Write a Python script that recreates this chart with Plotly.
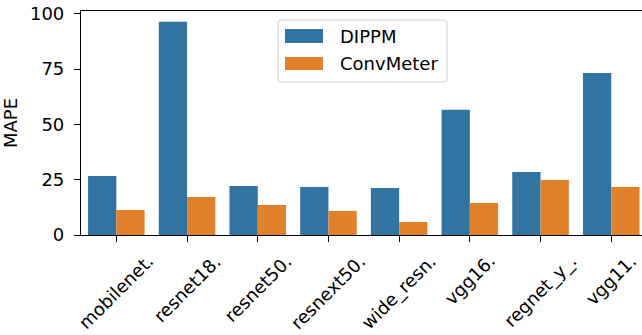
import plotly.graph_objects as go

# Mean absolute percentage error per model, for the two predictors
models = ["mobilenet.", "resnet18.", "resnet50.", "resnext50.",
          "wide_resn.", "vgg16.", "regnet_y_.", "vgg11."]
dippm = [26.7, 96.4, 22.2, 21.7, 21.3, 56.6, 28.5, 73.3]
convmeter = [11.3, 17.2, 13.6, 10.9, 5.9, 14.5, 24.9, 21.7]
series_names = ["DIPPM", "ConvMeter"]
y_ticks = [0, 25, 50, 75, 100]

BLUE = "#3274a1"
ORANGE = "#e1812c"
FONT = "DejaVu Sans"
FS = 18

W, H = 642, 335
L, R, T, B = 81, 0, 11, 100
PW, PH = W - L - R, H - T - B


def px_x(p):
    return (p - L) / PW


def px_y(p):
    return (H - B - p) / PH


fig = go.Figure()
fig.add_trace(go.Bar(x=models, y=dippm, name=series_names[0],
                     marker=dict(color=BLUE, line=dict(width=0))))
fig.add_trace(go.Bar(x=models, y=convmeter, name=series_names[1],
                     marker=dict(color=ORANGE, line=dict(width=0))))

# rotated category labels, bounding box centred under each tick
for m in models:
    fig.add_annotation(x=m, xref="x", y=px_y(249), yref="paper",
                       text=m, textangle=-45, showarrow=False,
                       xanchor="center", yanchor="top", borderpad=0,
                       font=dict(family=FONT, size=FS, color="black"))

# legend frame with rounded corners
x0, x1 = px_x(278), px_x(447)
y0, y1 = px_y(82), px_y(20)
rx, ry = 3 / PW, 3 / PH
path = (f"M{x0+rx},{y0} L{x1-rx},{y0} Q{x1},{y0} {x1},{y0+ry} "
        f"L{x1},{y1-ry} Q{x1},{y1} {x1-rx},{y1} L{x0+rx},{y1} "
        f"Q{x0},{y1} {x0},{y1-ry} L{x0},{y0+ry} Q{x0},{y0} {x0+rx},{y0} Z")
fig.add_shape(type="path", path=path, xref="paper", yref="paper",
              fillcolor="rgba(255,255,255,0.8)",
              line=dict(color="#d0d0d0", width=1), layer="above")

for (top, bot, color, name) in [(29, 43, BLUE, series_names[0]),
                                (57, 70, ORANGE, series_names[1])]:
    fig.add_shape(type="rect", xref="paper", yref="paper",
                  x0=px_x(285), x1=px_x(323), y0=px_y(bot), y1=px_y(top),
                  fillcolor=color, line=dict(width=0), layer="above")
    fig.add_annotation(x=px_x(338), y=px_y((top + bot) / 2), xref="paper",
                       yref="paper", text=name, showarrow=False,
                       xanchor="left", yanchor="middle",
                       font=dict(family=FONT, size=FS, color="black"))

fig.update_layout(
    width=W, height=H,
    margin=dict(l=L, r=R, t=T, b=B, pad=0),
    barmode="group", bargap=0.2, bargroupgap=0,
    plot_bgcolor="white", paper_bgcolor="white",
    showlegend=False,
    font=dict(family=FONT, size=FS, color="black"),
)
fig.update_xaxes(
    type="category", categoryorder="array", categoryarray=models,
    range=[-0.5, -0.5 + PW / 70.7],
    showticklabels=False, ticks="outside", ticklen=6, tickwidth=1.2,
    tickcolor="black", showline=True, linecolor="black", linewidth=1.2,
    mirror=True, showgrid=False, zeroline=False,
)
fig.update_yaxes(
    range=[0, 101.3], tickvals=y_ticks, ticks="outside", ticklen=6,
    tickwidth=1.2, tickcolor="black", ticklabelstandoff=6,
    tickfont=dict(family=FONT, size=FS, color="black"),
    showline=True, linecolor="black", linewidth=1.2, showgrid=False,
    zeroline=False,
    title=dict(text="MAPE", standoff=7,
               font=dict(family=FONT, size=FS, color="black")),
)

fig.write_html("out.html")
